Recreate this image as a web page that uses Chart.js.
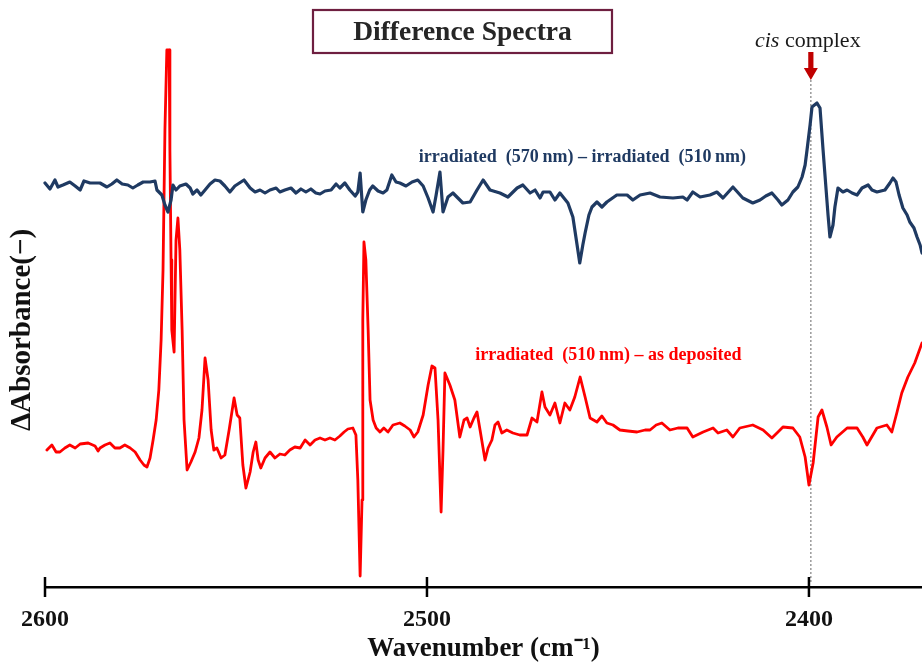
<!DOCTYPE html>
<html><head><meta charset="utf-8">
<script src="https://cdn.jsdelivr.net/npm/chart.js@4.4.0/dist/chart.umd.min.js"></script>
<style>html,body{margin:0;padding:0;background:#fff}canvas{display:block}</style>
</head><body>
<canvas id="c" width="922" height="664"></canvas>
<script>
// x tick labels (wavenumber, cm-1)
const xTicks = [2600, 2500, 2400];

// irradiated (570 nm) - irradiated (510 nm)   [ΔAbsorbance, arbitrary units, offset]
const blueWn = [2600,2598.7,2597.4,2596.6,2595.3,2593.5,2592.1,2590.8,2589.8,2588.2,
2585.6,2583.8,2582.5,2581.2,2579.8,2578.3,2577.0,2575.7,2574.3,2572.5,
2571.2,2570.7,2569.4,2568.6,2567.8,2567.0,2566.5,2565.7,2564.7,2563.1,
2562.0,2561.3,2560.2,2559.2,2558.1,2556.8,2555.5,2554.2,2552.9,2551.6,
2550.3,2547.9,2546.3,2545.0,2543.7,2542.4,2541.1,2539.5,2538.5,2537.2,
2535.6,2534.3,2533.0,2531.7,2530.4,2529.1,2528.0,2526.7,2525.1,2523.8,
2522.8,2521.5,2520.2,2518.8,2518.1,2517.5,2516.8,2516.0,2515.0,2514.2,
2512.8,2511.5,2510.5,2509.2,2508.1,2507.1,2505.5,2503.9,2502.4,2501.0,
2499.7,2498.4,2497.6,2496.6,2495.8,2494.5,2493.2,2491.9,2490.6,2488.7,
2486.9,2485.3,2483.5,2480.9,2478.8,2476.4,2474.9,2473.0,2471.7,2470.4,
2469.6,2467.8,2466.5,2465.2,2463.1,2461.8,2460.7,2460.0,2459.2,2458.6,
2457.6,2456.8,2455.5,2454.2,2452.9,2450.3,2447.6,2446.1,2444.2,2441.6,
2439.0,2435.6,2433.0,2431.9,2430.4,2428.5,2425.9,2424.1,2422.5,2419.9,
2417.3,2414.7,2412.8,2411.3,2409.7,2408.1,2407.1,2405.5,2404.2,2402.9,
2401.8,2401.0,2400.5,2399.7,2399.2,2397.9,2397.1,2396.3,2395.5,2395.0,
2394.5,2393.7,2393.2,2392.4,2391.1,2390.0,2388.7,2387.4,2386.1,2384.5,
2383.5,2382.2,2380.1,2378.8,2378.0,2377.2,2376.4,2375.4,2374.3,2373.6,
2372.5,2371.7,2370.9,2370.4];
const blueDA = [404,398,407,400,402,405,401,397,406,404,
404,400,403,407,403,402,399,402,405,405,
406,397,392,382,375,387,402,397,401,403,
399,393,397,392,397,403,407,406,401,395,
401,407,399,395,397,394,397,399,395,397,
399,394,398,395,398,394,393,396,397,403,
399,404,397,391,395,414,375,387,397,401,
396,394,397,412,405,404,401,405,407,401,
389,375,392,415,375,390,394,389,384,385,
397,407,397,394,390,399,402,394,397,389,
395,395,387,394,384,370,342,324,342,354,
372,380,385,380,385,392,392,387,392,394,
390,389,390,387,395,390,392,395,389,400,
389,384,387,391,394,387,382,387,395,400,
410,422,437,462,480,484,479,437,397,372,
350,362,380,399,395,397,394,392,399,402,
397,395,397,404,409,405,392,379,372,365,
359,350,342,334];

// irradiated (510 nm) - as deposited
const redWn = [2599.5,2598.2,2597.1,2596.1,2594.8,2593.5,2592.1,2590.8,2588.7,2586.9,
2586.1,2585.6,2584.3,2583.0,2581.7,2580.4,2579.1,2577.7,2576.4,2575.1,
2574.1,2573.3,2572.5,2571.7,2570.9,2570.2,2569.6,2569.1,2568.6,2568.1,
2567.5,2567.3,2567.0,2566.8,2566.2,2565.7,2565.2,2564.7,2564.1,2563.6,
2562.8,2561.8,2560.7,2559.7,2558.9,2558.1,2557.3,2556.5,2555.8,2555.0,
2553.9,2552.9,2551.8,2550.5,2549.7,2549.0,2548.2,2547.4,2546.3,2545.5,
2544.8,2544.2,2543.5,2542.4,2541.1,2539.8,2538.5,2537.2,2535.9,2534.6,
2533.2,2531.9,2530.6,2529.3,2528.0,2526.7,2525.4,2524.1,2522.8,2521.7,
2520.7,2519.4,2518.6,2518.1,2517.5,2517.0,2516.8,2516.5,2516.0,2515.4,
2514.9,2514.1,2513.3,2512.3,2511.3,2510.2,2508.9,2507.1,2505.8,2504.4,
2503.4,2502.4,2501.0,2499.7,2498.7,2497.9,2497.1,2496.3,2495.8,2495.3,
2494.0,2492.7,2491.4,2490.3,2489.5,2488.7,2487.7,2486.9,2486.1,2484.8,
2484.0,2483.0,2482.2,2481.4,2480.4,2479.1,2477.5,2475.7,2473.8,2472.5,
2471.2,2469.9,2469.1,2467.8,2466.5,2465.2,2463.9,2462.6,2461.3,2459.9,
2458.6,2457.3,2455.5,2454.2,2452.9,2451.3,2449.5,2447.4,2445.0,2442.9,
2441.6,2440.0,2438.5,2436.4,2434.3,2431.9,2430.4,2427.7,2425.1,2423.8,
2421.5,2419.9,2418.1,2414.7,2412.0,2409.7,2408.1,2406.8,2404.2,2402.4,
2401.0,2400.0,2398.9,2397.6,2396.6,2395.3,2394.2,2392.7,2390.0,2387.4,
2385.9,2384.8,2382.2,2379.6,2378.3,2377.0,2375.7,2374.1,2372.3,2370.4];
const redDA = [137,142,135,135,139,142,139,143,144,141,
136,139,142,144,139,139,142,139,135,127,
122,120,129,147,167,197,247,317,457,537,
537,437,327,257,235,347,369,337,257,167,
117,125,135,149,177,229,207,157,137,139,
129,132,157,189,172,169,122,99,115,135,
145,127,119,129,135,129,133,132,137,140,
139,147,142,147,149,147,149,147,151,155,
158,159,152,107,11,87,267,345,327,257,
187,167,159,155,159,155,162,164,161,157,
150,155,172,202,221,219,167,75,137,214,
202,187,150,167,169,160,169,175,157,127,
139,147,162,165,154,157,154,152,152,169,
165,195,180,172,184,164,184,177,190,210,
190,169,165,171,164,162,157,156,155,157,
157,162,164,157,159,159,150,155,159,154,
157,150,159,162,157,149,155,160,159,150,
130,102,124,170,177,160,142,150,159,159,
150,142,159,162,155,174,194,210,224,244];

const cisWn = 2399.5;

const SERIF = '"Liberation Serif", "Times New Roman", Times, serif';
const BLUE = '#1f3a62';
const RED = '#ff0000';

const notes = {
  id: 'notes',
  beforeDatasetsDraw(chart) {
    const {ctx, scales: {x, y}} = chart;
    const px = x.getPixelForValue(cisWn);
    ctx.save();
    ctx.strokeStyle = '#8a8a8a';
    ctx.lineWidth = 1.3;
    ctx.setLineDash([2, 2]);
    ctx.beginPath();
    ctx.moveTo(px, y.getPixelForValue(507));
    ctx.lineTo(px, y.getPixelForValue(3));
    ctx.stroke();
    ctx.restore();
  },
  afterDraw(chart) {
    const {ctx, scales: {x, y}} = chart;
    ctx.save();
    // cross tick marks
    ctx.strokeStyle = '#000';
    ctx.lineWidth = 2.5;
    x.ticks.forEach(t => {
      const p = x.getPixelForValue(t.value);
      ctx.beginPath();
      ctx.moveTo(p, x.top - 10);
      ctx.lineTo(p, x.top + 10);
      ctx.stroke();
    });

    // title box
    const tx = x.getPixelForValue(2490.7), ty = y.getPixelForValue(555.5);
    ctx.fillStyle = '#fff';
    ctx.strokeStyle = '#6e1f40';
    ctx.lineWidth = 2.2;
    ctx.fillRect(tx - 149.5, ty - 21.5, 299, 43);
    ctx.strokeRect(tx - 149.5, ty - 21.5, 299, 43);
    ctx.fillStyle = '#262626';
    ctx.font = 'bold 27.5px ' + SERIF;
    ctx.textAlign = 'center';
    ctx.textBaseline = 'middle';
    ctx.fillText('Difference Spectra', tx, ty + 1);

    // series labels
    ctx.font = 'bold 18px ' + SERIF;
    ctx.fillStyle = BLUE;
    ctx.fillText('irradiated  (570\u2009nm) \u2013 irradiated  (510\u2009nm)', x.getPixelForValue(2459.3), y.getPixelForValue(430));
    ctx.fillStyle = RED;
    ctx.fillText('irradiated  (510\u2009nm) \u2013 as deposited', x.getPixelForValue(2452.5), y.getPixelForValue(232));

    // cis complex label
    const cx = x.getPixelForValue(2400.3), cy = y.getPixelForValue(546);
    ctx.fillStyle = '#1a1a1a';
    ctx.font = 'italic 22px ' + SERIF;
    const w1 = ctx.measureText('cis').width;
    ctx.font = '22px ' + SERIF;
    const w2 = ctx.measureText(' complex').width;
    const sx = cx - (w1 + w2) / 2;
    ctx.textAlign = 'left';
    ctx.font = 'italic 22px ' + SERIF;
    ctx.fillText('cis', sx, cy);
    ctx.font = '22px ' + SERIF;
    ctx.fillText(' complex', sx + w1, cy);

    // arrow
    const ax = x.getPixelForValue(cisWn);
    const tipY = y.getPixelForValue(507);
    ctx.fillStyle = '#c00000';
    ctx.beginPath();
    ctx.moveTo(ax - 2.6, tipY - 28);
    ctx.lineTo(ax + 2.6, tipY - 28);
    ctx.lineTo(ax + 2.6, tipY - 12);
    ctx.lineTo(ax + 7, tipY - 12);
    ctx.lineTo(ax, tipY);
    ctx.lineTo(ax - 7, tipY - 12);
    ctx.lineTo(ax - 2.6, tipY - 12);
    ctx.closePath();
    ctx.fill();
    ctx.restore();
  }
};

Chart.defaults.font.family = SERIF;

new Chart(document.getElementById('c'), {
  type: 'line',
  data: {
    datasets: [
      {
        label: 'irradiated (570 nm) – irradiated (510 nm)',
        data: blueWn.map((w, i) => ({x: w, y: blueDA[i]})),
        borderColor: BLUE, borderWidth: 3.2, pointRadius: 0, tension: 0, clip: false,
        borderJoinStyle: 'round', borderCapStyle: 'round'
      },
      {
        label: 'irradiated (510 nm) – as deposited',
        data: redWn.map((w, i) => ({x: w, y: redDA[i]})),
        borderColor: RED, borderWidth: 2.8, pointRadius: 0, tension: 0, clip: false,
        borderJoinStyle: 'round', borderCapStyle: 'round'
      }
    ]
  },
  options: {
    responsive: false,
    animation: false,
    devicePixelRatio: 1,
    layout: {padding: {top: 73, left: 4, right: 0, bottom: 1.7}},
    plugins: {legend: {display: false}, tooltip: {enabled: false}},
    scales: {
      x: {
        type: 'linear',
        reverse: true,
        min: 2370.4,
        max: 2600,
        afterBuildTicks: s => { s.ticks = xTicks.map(v => ({value: v})); },
        border: {display: true, color: '#000', width: 2.5},
        grid: {display: true, drawOnChartArea: false, drawTicks: true, tickLength: 20, color: 'rgba(0,0,0,0)', lineWidth: 1},
        ticks: {color: '#111', font: {size: 24, weight: 'bold', lineHeight: 1}, padding: 0.6, maxRotation: 0, autoSkip: false,
                callback: v => String(v)},
        title: {display: true, text: 'Wavenumber (cm\u207B\u00B9)', color: '#111', font: {size: 27, weight: 'bold', lineHeight: 1}, padding: {top: 3.1, bottom: 0}}
      },
      y: {
        min: 0,
        max: 514,
        border: {display: false},
        grid: {display: false, drawTicks: false, tickLength: 0},
        ticks: {display: false},
        title: {display: true, text: '\u0394Absorbance(\u2212)', color: '#111', font: {size: 29, weight: 'bold', lineHeight: 1}, padding: {top: 4, bottom: 8}}
      }
    }
  },
  plugins: [notes]
});
</script>
</body></html>
